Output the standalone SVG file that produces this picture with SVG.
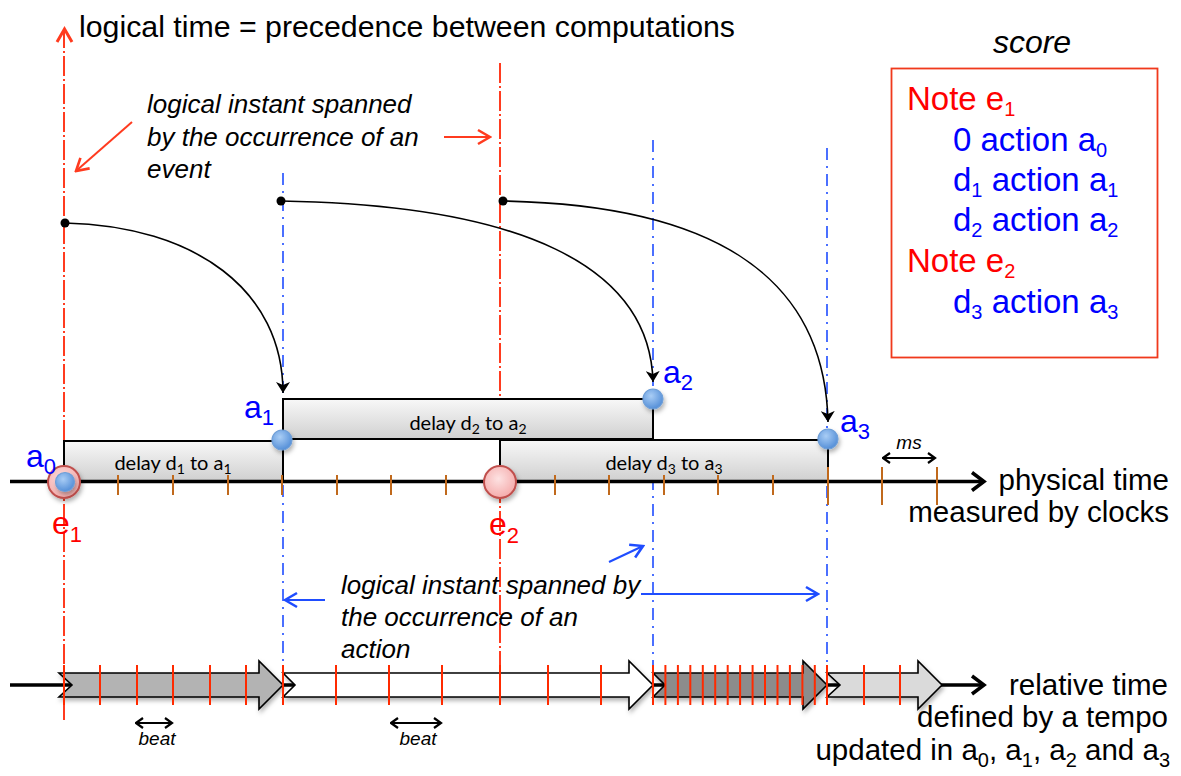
<svg xmlns="http://www.w3.org/2000/svg" width="1181" height="776" viewBox="0 0 1181 776">
<style>
.t{font-family:"Liberation Sans",Arial,sans-serif;fill:#000}
.it{font-family:"Liberation Sans",Arial,sans-serif;font-style:italic;fill:#000}
.red{fill:#ff0000}
.blue{fill:#0000ff}
.rl{stroke:#ff3b1f;stroke-width:2;stroke-dasharray:20 3 2 3;fill:none}
.bl{stroke:#1f4dff;stroke-width:1.6;stroke-dasharray:12 6 2 6;fill:none}
.tk{stroke:#c0691c;stroke-width:2}
.rt{stroke:#ff2a00;stroke-width:2}
.box{stroke:#000;stroke-width:2;fill:url(#gbox)}
.blk{stroke:#000;stroke-width:1.6}
.lab{font-family:Lato,"Liberation Sans",sans-serif;font-size:20px;fill:#000}
.curve{fill:none;stroke:#000;stroke-width:1.6;marker-end:url(#mhead)}
.ax{stroke:#000;stroke-width:3.5;fill:none;marker-end:url(#mbig)}
.dbl{stroke:#000;stroke-width:2;fill:none;marker-start:url(#msmall);marker-end:url(#msmall)}
.bc{fill:url(#gblue);stroke:#6f9fd8;stroke-width:1.2;filter:url(#sh)}
.ec{fill:url(#gred);stroke:#c0504d;stroke-width:2;filter:url(#sh)}
.ss{font-size:20px}
</style>
<defs>
<linearGradient id="gbox" x1="0" y1="0" x2="0" y2="1">
<stop offset="0" stop-color="#f8f8f8"/>
<stop offset="1" stop-color="#d0d0d0"/>
</linearGradient>
<radialGradient id="gblue" cx="0.4" cy="0.35" r="0.7">
<stop offset="0" stop-color="#a9cdf5"/>
<stop offset="1" stop-color="#4f8bd6"/>
</radialGradient>
<radialGradient id="gred" cx="0.45" cy="0.4" r="0.7">
<stop offset="0" stop-color="#fde2e2"/>
<stop offset="1" stop-color="#f3a2a2"/>
</radialGradient>
<filter id="sh" x="-50%" y="-50%" width="200%" height="200%">
<feDropShadow dx="1.5" dy="3" stdDeviation="2" flood-color="#000" flood-opacity="0.3"/>
</filter>
<filter id="sh2" x="-10%" y="-30%" width="120%" height="160%">
<feDropShadow dx="1.5" dy="3" stdDeviation="2" flood-color="#000" flood-opacity="0.3"/>
</filter>
<marker id="mhead" viewBox="0 0 12 14" refX="11" refY="7" markerWidth="12" markerHeight="14" markerUnits="userSpaceOnUse" orient="auto">
<path d="M0,0 L11,7 L0,14 L3,7 Z" fill="#000"/>
</marker>
<marker id="mbig" viewBox="0 0 18 22" refX="15" refY="11" markerWidth="18" markerHeight="22" markerUnits="userSpaceOnUse" orient="auto">
<path d="M3,2 L15,11 L3,20" fill="none" stroke="#000" stroke-width="3.5"/>
</marker>
<marker id="msmall" viewBox="0 0 10 12" refX="8.5" refY="6" markerWidth="10" markerHeight="12" markerUnits="userSpaceOnUse" orient="auto-start-reverse">
<path d="M1.5,1 L8.5,6 L1.5,11" fill="none" stroke="#000" stroke-width="2.2"/>
</marker>
<marker id="mred" viewBox="0 0 16 18" refX="14" refY="9" markerWidth="16" markerHeight="18" markerUnits="userSpaceOnUse" orient="auto">
<path d="M2,2 L14,9 L2,16" fill="none" stroke="#ff3b1f" stroke-width="2.6" stroke-dasharray="none"/>
</marker>
<marker id="mblue" viewBox="0 0 16 18" refX="14" refY="9" markerWidth="16" markerHeight="18" markerUnits="userSpaceOnUse" orient="auto">
<path d="M2,2 L14,9 L2,16" fill="none" stroke="#1f4dff" stroke-width="2.6"/>
</marker>
</defs>

<rect width="1181" height="776" fill="#fff"/>

<!-- logical time lines -->
<g id="logical-lines">
<line class="rl" x1="64" y1="720" x2="64" y2="31"/>
<path d="M57,42 L64.5,29 L72,42" fill="none" stroke="#ff3b1f" stroke-width="3"/>
<line class="rl" x1="500" y1="63" x2="500" y2="703"/>
<line class="bl" x1="283" y1="173" x2="283" y2="708"/>
<line class="bl" x1="653" y1="140" x2="653" y2="705"/>
<line class="bl" x1="827" y1="148" x2="827" y2="705"/>
</g>

<g id="title">
<text class="t" x="79" y="37" font-size="30.3">logical time = precedence between computations</text>
</g>

<g id="score">
<text class="it" x="1032" y="53" font-size="32" text-anchor="middle">score</text>
<rect x="891.5" y="68.5" width="266" height="289" fill="none" stroke="#f0391c" stroke-width="1.8"/>
<text class="t red" x="907" y="110" font-size="33">Note e<tspan dy="6" class="ss">1</tspan></text>
<text class="t blue" x="953" y="151" font-size="33">0 action a<tspan dy="5.5" class="ss">0</tspan></text>
<text class="t blue" x="953" y="191" font-size="33">d<tspan dy="5.5" class="ss">1</tspan><tspan dy="-5.5"> action a</tspan><tspan dy="5.5" class="ss">1</tspan></text>
<text class="t blue" x="953" y="231" font-size="33">d<tspan dy="5.5" class="ss">2</tspan><tspan dy="-5.5"> action a</tspan><tspan dy="5.5" class="ss">2</tspan></text>
<text class="t red" x="907" y="272" font-size="33">Note e<tspan dy="6" class="ss">2</tspan></text>
<text class="t blue" x="953" y="313" font-size="33">d<tspan dy="5.5" class="ss">3</tspan><tspan dy="-5.5"> action a</tspan><tspan dy="5.5" class="ss">3</tspan></text>
</g>

<g id="note-event">
<text class="it" x="147" y="113" font-size="26">logical instant spanned</text>
<text class="it" x="147" y="146" font-size="26">by the occurrence of an</text>
<text class="it" x="147" y="178" font-size="26">event</text>
</g>

<g id="note-action">
<text class="it" x="341" y="594" font-size="26">logical instant spanned by</text>
<text class="it" x="341" y="626" font-size="26">the occurrence of an</text>
<text class="it" x="341" y="658" font-size="26">action</text>
</g>

<!-- delay boxes -->
<g id="delay-d2">
<rect class="box" x="283" y="399" width="370" height="40"/>
<text class="lab" x="468" y="430" text-anchor="middle">delay d<tspan dy="4" font-size="14">2</tspan><tspan dy="-4"> to a</tspan><tspan dy="4" font-size="14">2</tspan></text>
</g>
<g id="delay-d1">
<rect class="box" x="64" y="441" width="219" height="40"/>
<text class="lab" x="173" y="470" text-anchor="middle">delay d<tspan dy="4" font-size="14">1</tspan><tspan dy="-4"> to a</tspan><tspan dy="4" font-size="14">1</tspan></text>
</g>
<g id="delay-d3">
<rect class="box" x="500" y="440" width="328" height="41"/>
<text class="lab" x="664" y="470" text-anchor="middle">delay d<tspan dy="4" font-size="14">3</tspan><tspan dy="-4"> to a</tspan><tspan dy="4" font-size="14">3</tspan></text>
</g>

<!-- physical time axis -->
<g id="physical-axis">
<line class="ax" x1="10" y1="481.5" x2="984" y2="481.5"/>
<g class="tk">
<line x1="118" y1="475" x2="118" y2="495"/>
<line x1="173" y1="475" x2="173" y2="495"/>
<line x1="228" y1="475" x2="228" y2="495"/>
<line x1="282" y1="475" x2="282" y2="495"/>
<line x1="337" y1="475" x2="337" y2="495"/>
<line x1="391" y1="475" x2="391" y2="495"/>
<line x1="446" y1="475" x2="446" y2="495"/>
<line x1="555" y1="475" x2="555" y2="495"/>
<line x1="609" y1="475" x2="609" y2="495"/>
<line x1="664" y1="475" x2="664" y2="495"/>
<line x1="718" y1="475" x2="718" y2="495"/>
<line x1="773" y1="475" x2="773" y2="495"/>
<line x1="828" y1="467" x2="828" y2="505"/>
<line x1="882" y1="467" x2="882" y2="505"/>
<line x1="937" y1="467" x2="937" y2="505"/>
</g>
<line class="dbl" x1="883" y1="458" x2="935" y2="458"/>
<text class="it" x="909" y="449" font-size="19" text-anchor="middle">ms</text>
<text class="t" x="1169" y="490" font-size="29.5" text-anchor="end">physical time</text>
<text class="t" x="1169" y="522" font-size="29.5" text-anchor="end">measured by clocks</text>
</g>

<!-- events and actions -->
<g id="e1">
<circle class="ec" cx="64" cy="482" r="16"/>
<text class="t red" x="52" y="534" font-size="32">e<tspan dy="8" font-size="22">1</tspan></text>
</g>
<g id="a0">
<circle class="bc" cx="65" cy="482" r="9.5"/>
<text class="t blue" x="26" y="467" font-size="32">a<tspan dy="7" font-size="22">0</tspan></text>
</g>
<g id="e2">
<circle class="ec" cx="500" cy="482" r="16"/>
<text class="t red" x="489" y="535" font-size="32">e<tspan dy="8" font-size="22">2</tspan></text>
</g>
<g id="a1">
<circle class="bc" cx="282" cy="440" r="10"/>
<text class="t blue" x="244" y="418" font-size="32">a<tspan dy="7" font-size="22">1</tspan></text>
</g>
<g id="a2">
<circle class="bc" cx="653" cy="399" r="10"/>
<text class="t blue" x="663" y="383" font-size="32">a<tspan dy="7" font-size="22">2</tspan></text>
</g>
<g id="a3">
<circle class="bc" cx="828" cy="439" r="10"/>
<text class="t blue" x="840" y="432" font-size="32">a<tspan dy="7" font-size="22">3</tspan></text>
</g>

<!-- relative time -->
<g id="relative-axis">
<line class="ax" x1="10" y1="685" x2="984" y2="685"/>
<g class="blk" filter="url(#sh2)">
<path d="M59,673 L259,673 L259,661 L283,685 L259,709 L259,697 L59,697 L72,685 Z" fill="#b3b3b3"/>
<path d="M283,673 L629,673 L629,661 L653,685 L629,709 L629,697 L283,697 L295,685 Z" fill="#ffffff"/>
<path d="M653,673 L803,673 L803,661 L827,685 L803,709 L803,697 L653,697 L665,685 Z" fill="#8c8c8c"/>
<path d="M827,673 L918,673 L918,661 L942,685 L918,709 L918,697 L827,697 L840,685 Z" fill="#dadada"/>
</g>
<g class="rt">
<line x1="64" y1="665" x2="64" y2="705"/>
<line x1="100" y1="665" x2="100" y2="705"/>
<line x1="137" y1="665" x2="137" y2="705"/>
<line x1="173" y1="665" x2="173" y2="705"/>
<line x1="210" y1="665" x2="210" y2="705"/>
<line x1="246" y1="665" x2="246" y2="705"/>
<line x1="283" y1="665" x2="283" y2="705"/>
<line x1="336" y1="665" x2="336" y2="705"/>
<line x1="389" y1="665" x2="389" y2="705"/>
<line x1="442" y1="665" x2="442" y2="705"/>
<line x1="500" y1="665" x2="500" y2="705"/>
<line x1="548" y1="665" x2="548" y2="705"/>
<line x1="601" y1="665" x2="601" y2="705"/>
<line x1="653" y1="665" x2="653" y2="705"/>
<line x1="665.4" y1="665" x2="665.4" y2="705"/>
<line x1="677.9" y1="665" x2="677.9" y2="705"/>
<line x1="690.3" y1="665" x2="690.3" y2="705"/>
<line x1="702.8" y1="665" x2="702.8" y2="705"/>
<line x1="715.2" y1="665" x2="715.2" y2="705"/>
<line x1="727.7" y1="665" x2="727.7" y2="705"/>
<line x1="740.1" y1="665" x2="740.1" y2="705"/>
<line x1="752.6" y1="665" x2="752.6" y2="705"/>
<line x1="765" y1="665" x2="765" y2="705"/>
<line x1="777.5" y1="665" x2="777.5" y2="705"/>
<line x1="789.9" y1="665" x2="789.9" y2="705"/>
<line x1="802.4" y1="665" x2="802.4" y2="705"/>
<line x1="814.8" y1="665" x2="814.8" y2="705"/>
<line x1="827" y1="665" x2="827" y2="705"/>
<line x1="864" y1="665" x2="864" y2="705"/>
<line x1="900" y1="665" x2="900" y2="705"/>
</g>
<line class="dbl" x1="136" y1="723" x2="172" y2="723"/>
<text class="it" x="157" y="745" font-size="19" text-anchor="middle">beat</text>
<line class="dbl" x1="391" y1="723" x2="441" y2="723"/>
<text class="it" x="418" y="745" font-size="19" text-anchor="middle">beat</text>
<text class="t" x="1168" y="695" font-size="29.5" text-anchor="end">relative time</text>
<text class="t" x="1168" y="727" font-size="29.5" text-anchor="end">defined by a tempo</text>
<text class="t" x="1170" y="760" font-size="29.5" text-anchor="end">updated in a<tspan dy="7" font-size="20">0</tspan><tspan dy="-7">, a</tspan><tspan dy="7" font-size="20">1</tspan><tspan dy="-7">, a</tspan><tspan dy="7" font-size="20">2</tspan><tspan dy="-7"> and a</tspan><tspan dy="7" font-size="20">3</tspan></text>
</g>

<!-- connectors -->
<g id="connectors">
<path class="curve" d="M65,223 C195,226 283,290 283,393"/>
<path class="curve" d="M281,201 C520,205 650,265 653,382"/>
<path class="curve" d="M503,201 C720,205 825,280 828,422"/>
<circle cx="65" cy="223" r="4.5" fill="#000"/>
<circle cx="281" cy="201" r="4.5" fill="#000"/>
<circle cx="503" cy="201" r="4.5" fill="#000"/>
<line x1="132" y1="122" x2="76" y2="171" stroke="#ff3b1f" stroke-width="2" marker-end="url(#mred)"/>
<line x1="444" y1="137" x2="490" y2="137" stroke="#ff3b1f" stroke-width="2" marker-end="url(#mred)"/>
<line x1="325" y1="600" x2="285" y2="600" stroke="#1f4dff" stroke-width="2" marker-end="url(#mblue)"/>
<line x1="609" y1="562" x2="643" y2="546" stroke="#1f4dff" stroke-width="2" marker-end="url(#mblue)"/>
<line x1="641" y1="594" x2="818" y2="594" stroke="#1f4dff" stroke-width="2" marker-end="url(#mblue)"/>
</g>
</svg>
